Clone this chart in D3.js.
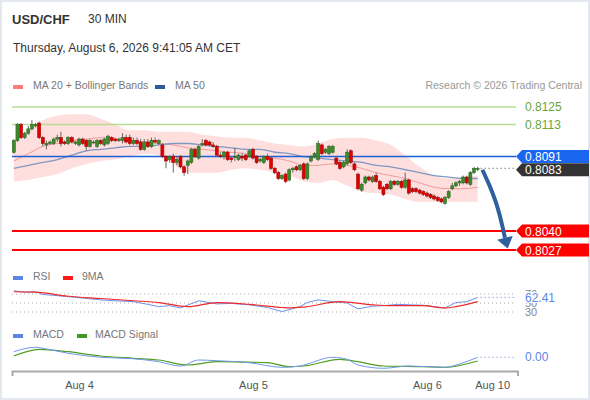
<!DOCTYPE html>
<html>
<head>
<meta charset="utf-8">
<script src="https://cdn.jsdelivr.net/npm/d3@7"></script>
<style>
body { margin: 0; background: #fff; }
svg { display: block; font-family: "Liberation Sans", Arial, sans-serif; }
</style>
</head>
<body>
<div id="chart"></div>
<script>
// 30 min candles, index 0..128
var opens = [.8094,.8102,.8113,.8104,.8107,.8110,.8112,.8114,.8104,.8099,.8100,.8100,.8103,.8104,.8101,.8100,.8104,.8100,.8099,.8103,.8102,.8098,.8101,.8098,.8102,.8099,.8100,.8104,.8103,.8102,.8102,.8104,
  .8104,.8100,.8102,.8101,.8096,.8101,.8098,.8102,.8100,.8099,.8091,.8089,.8091,.8087,.8091,.8084,.8085,.8087,.8096,.8090,.8099,.8102,.8101,.8099,.8098,.8092,.8091,.8094,.8090,.8091,.8089,.8091,.8092,
  .8091,.8096,.8091,.8088,.8087,.8091,.8090,.8083,.8080,.8076,.8079,.8075,.8082,.8084,.8082,.8086,.8076,.8088,.8091,.8089,.8099,.8094,.8093,.8094,.8090,.8087,.8084,.8086,.8095,.8086,.8079,.8068,
  .8073,.8077,.8074,.8078,.8074,.8070,.8072,.8069,.8074,.8072,.8074,.8070,.8075,.8069,.8069,.8068,.8067,.8066,.8065,.8064,.8063,.8062,.8059,.8063,.8069,.8071,.8073,.8073,.8077,.8072,.8080,.8083];
var highs = [.8103,.8114,.8114,.8108,.8112,.8116,.8114,.8115,.8105,.8102,.8102,.8104,.8106,.8108,.8102,.8105,.8105,.8102,.8104,.8104,.8103,.8103,.8102,.8103,.8103,.8104,.8106,.8105,.8104,.8104,.8107,.8106,
  .8106,.8104,.8104,.8103,.8103,.8103,.8104,.8104,.8103,.8100,.8092,.8092,.8093,.8091,.8092,.8085,.8089,.8097,.8097,.8099,.8103,.8103,.8102,.8101,.8099,.8094,.8095,.8095,.8091,.8097,.8093,.8093,.8093,
  .8096,.8097,.8092,.8090,.8092,.8093,.8091,.8084,.8081,.8079,.8080,.8083,.8084,.8085,.8086,.8087,.8087,.8092,.8094,.8102,.8100,.8097,.8099,.8099,.8091,.8088,.8088,.8096,.8096,.8087,.8080,.8073,
  .8078,.8078,.8078,.8080,.8075,.8071,.8073,.8075,.8075,.8075,.8075,.8080,.8076,.8070,.8070,.8069,.8068,.8067,.8066,.8065,.8064,.8063,.8064,.8068,.8073,.8074,.8075,.8078,.8078,.8081,.8084,.8084];
var lows = [.8093,.8101,.8103,.8103,.8106,.8109,.8111,.8103,.8098,.8096,.8099,.8099,.8101,.8098,.8099,.8099,.8100,.8099,.8098,.8099,.8095,.8097,.8100,.8097,.8099,.8098,.8099,.8101,.8101,.8101,.8100,.8100,
  .8099,.8099,.8099,.8095,.8095,.8097,.8097,.8100,.8099,.8090,.8083,.8087,.8080,.8085,.8083,.8078,.8079,.8086,.8090,.8089,.8098,.8098,.8098,.8097,.8091,.8090,.8089,.8088,.8087,.8088,.8088,.8088,.8088,
  .8090,.8089,.8086,.8087,.8086,.8088,.8082,.8079,.8075,.8075,.8073,.8074,.8080,.8081,.8081,.8075,.8075,.8087,.8090,.8088,.8092,.8093,.8092,.8093,.8085,.8082,.8083,.8085,.8086,.8081,.8068,.8067,
  .8072,.8074,.8073,.8073,.8068,.8064,.8068,.8068,.8071,.8071,.8069,.8069,.8065,.8066,.8066,.8065,.8064,.8063,.8062,.8061,.8060,.8059,.8058,.8062,.8068,.8070,.8071,.8072,.8072,.8071,.8079,.8081];
var closes = [.8102,.8113,.8104,.8107,.8110,.8113,.8113,.8104,.8100,.8100,.8101,.8103,.8104,.8100,.8100,.8104,.8101,.8101,.8103,.8100,.8098,.8102,.8101,.8102,.8100,.8103,.8105,.8102,.8102,.8103,.8104,.8101,
  .8100,.8102,.8100,.8096,.8101,.8098,.8102,.8101,.8102,.8091,.8088,.8091,.8087,.8089,.8084,.8080,.8088,.8096,.8091,.8098,.8100,.8099,.8099,.8098,.8092,.8091,.8094,.8089,.8089,.8091,.8092,.8090,.8089,
  .8095,.8090,.8087,.8089,.8091,.8089,.8083,.8080,.8076,.8078,.8074,.8082,.8083,.8082,.8085,.8076,.8086,.8091,.8093,.8100,.8093,.8096,.8098,.8098,.8086,.8083,.8087,.8094,.8087,.8082,.8069,.8072,
  .8077,.8075,.8077,.8074,.8069,.8065,.8069,.8074,.8072,.8074,.8070,.8075,.8066,.8067,.8067,.8066,.8065,.8064,.8063,.8062,.8061,.8060,.8063,.8067,.8071,.8073,.8074,.8077,.8073,.8080,.8083,.8083];

// MA 20 + Bollinger Bands, MA 50 (read at these candle indices)
var bandIdx = [0,4,8,12,16,20,24,28,32,36,40,44,48,52,56,60,64,68,72,76,80,84,88,92,96,100,104,108,112,116,120,124,128];
var ma20  = [.8088,.8093,.8098,.8100,.8102,.8103,.8104,.8103,.8102,.8101,.8100,.8099,.8097,.8096,.8095,.8094,.8093,.8091,.8090,.8088,.8085,.8085,.8086,.8085,.8083,.8080,.8078,.8076,.8073,.8070,.8069,.8069,.8070];
var upper = [.8102,.8109,.8116,.8119,.8120,.8120,.8117,.8113,.8109,.8109,.8108,.8108,.8108,.8106,.8105,.8104,.8104,.8102,.8100,.8099,.8098,.8100,.8103,.8104,.8104,.8102,.8099,.8092,.8084,.8078,.8076,.8077,.8078];
var lower = [.8074,.8075,.8077,.8079,.8083,.8086,.8088,.8089,.8091,.8093,.8092,.8086,.8080,.8080,.8080,.8082,.8083,.8082,.8080,.8078,.8074,.8073,.8075,.8071,.8067,.8066,.8065,.8062,.8060,.8060,.8060,.8060,.8060];
var ma50  = [.8083,.8085,.8087,.8089,.8092,.8095,.8096,.8097,.8098,.8098,.8099,.8100,.8100,.8099,.8098,.8097,.8096,.8096,.8094,.8093,.8091,.8090,.8089,.8088,.8087,.8085,.8084,.8082,.8080,.8078,.8077,.8076,.8076];

var resistLevels = [0.8125, 0.8113];
var pivotLevel = 0.8091;
var supportLevels = [0.8040, 0.8027];

var arrowIdx = [129.3, 131.3, 133.0, 136.3];
var arrowPrice = [0.8082, 0.8071, 0.8060, 0.8028];

var rsiIdx = [0,3,6,8,11,15,19,24,28,33,37,40,43,46,51,56,60,65,70,74,79,81,84,88,92,95,99,102,106,109,113,116,119,122,125,128];
var rsi    = [77,74,75,69,67,64,61,57,55,53,47,42,44,39,55,48,49,46,40,31,42,51,57,53,50,37,43,44,47,46,45,42,39,51,53,62.41];
var rsiMaIdx = [0,6,15,24,33,40,48,56,65,74,76,80,90,99,104,113,119,122,128];
var rsiMa    = [75,74,65,60,55,51,42,51,47,40,39,41,53,46,44,44,39,42,53];
var rsiLevels = [70, 50, 30];

var macdIdx = [0,6,8,15,24,33,40,46,51,56,65,74,79,81,88,92,95,102,109,119,123,128];
var macd    = [4.3,8.7,7.7,2.7,-1.3,-2.7,-5.7,-10,-4,-4.7,-6.7,-11.3,-10,-8,-1.3,-3.3,-9,-12.3,-10,-11.3,-8,-1.3].map(function(v){ return v * 1e-5; });
var signalIdx = [0,7,15,24,33,40,48,56,70,76,80,90,95,102,113,119,128];
var signal    = [0,6.7,4.3,0,-2.3,-4,-9,-5.7,-6.7,-10.7,-10,-3.3,-5.7,-10,-10.7,-11.3,-5].map(function(v){ return v * 1e-5; });

var tickIdx = [18, 66, 114, 132];
var tickLabels = ["Aug 4", "Aug 5", "Aug 6", "Aug 10"];

var width = 590, height = 400;
var font = "'Liberation Sans', Arial, sans-serif";

var svg = d3.select("#chart").append("svg")
    .attr("width", width)
    .attr("height", height);

svg.append("rect")
    .attr("x", 1).attr("y", 1)
    .attr("width", width - 2).attr("height", height - 2)
    .attr("fill", "#fff")
    .attr("stroke", "#e3e8ee")
    .attr("stroke-width", 2);

var x = d3.scaleLinear().domain([-0.5, 139]).range([12, 517.5]);
var y = d3.scaleLinear().domain([0.8027, 0.8125]).range([250, 107]);
var yR = d3.scaleLinear().domain([30, 70]).range([312, 294]);
var yM = d3.scaleLinear().domain([-0.0001, 0]).range([366, 356]);
var rightEdge = 516;

// header
svg.append("text").attr("x", 12).attr("y", 24).text("USD/CHF")
    .style("font-size", "13px").style("font-weight", "bold").attr("fill", "#333");
svg.append("text").attr("x", 88).attr("y", 23).text("30 MIN")
    .style("font-size", "12px").attr("fill", "#333");
svg.append("text").attr("x", 13).attr("y", 52).text("Thursday, August 6, 2026 9:41:05 AM CET")
    .style("font-size", "12px").attr("fill", "#333");

function legendItem(x0, yy, color, label, gap) {
    svg.append("rect").attr("x", x0).attr("y", yy - 4).attr("width", 10).attr("height", 4).attr("fill", color);
    svg.append("text").attr("x", x0 + gap).attr("y", yy).text(label)
        .style("font-size", "10.5px").attr("fill", "#777");
}
legendItem(13, 89, "#ff7c7c", "MA 20 + Bollinger Bands", 20);
legendItem(155, 89, "#2f5b9a", "MA 50", 20);
svg.append("text").attr("x", 582).attr("y", 89).attr("text-anchor", "end")
    .text("Research \u00a9 2026 Trading Central")
    .style("font-size", "10.5px").attr("fill", "#999");

// bollinger band
var bandData = bandIdx.map(function(d, i){ return { i: d, u: upper[i], l: lower[i], m: ma20[i], m50: ma50[i] }; });
svg.append("path").datum(bandData)
    .attr("d", d3.area().curve(d3.curveMonotoneX)
        .x(function(d){ return x(d.i); })
        .y0(function(d){ return y(d.l); })
        .y1(function(d){ return y(d.u); }))
    .attr("fill", "#ffdede");

svg.append("path").datum(bandData)
    .attr("d", d3.line().curve(d3.curveMonotoneX)
        .x(function(d){ return x(d.i); }).y(function(d){ return y(d.m); }))
    .attr("fill", "none").attr("stroke", "#f29a9a").attr("stroke-width", 1);

svg.append("path").datum(bandData)
    .attr("d", d3.line().curve(d3.curveMonotoneX)
        .x(function(d){ return x(d.i); }).y(function(d){ return y(d.m50); }))
    .attr("fill", "none").attr("stroke", "#7f98c2").attr("stroke-width", 1.3);

// levels
svg.selectAll(".res").data(resistLevels).enter().append("line")
    .attr("x1", 12).attr("x2", rightEdge)
    .attr("y1", function(d){ return y(d); }).attr("y2", function(d){ return y(d); })
    .attr("stroke", "#b9dc93").attr("stroke-width", 1.5);
svg.selectAll(".resl").data(resistLevels).enter().append("text")
    .attr("x", 525).attr("y", function(d){ return y(d) + 4; })
    .text(function(d){ return d.toFixed(4); })
    .style("font-size", "12px").attr("fill", "#6aa534");

svg.append("line").attr("x1", 12).attr("x2", rightEdge)
    .attr("y1", y(pivotLevel)).attr("y2", y(pivotLevel))
    .attr("stroke", "#1f5fd4").attr("stroke-width", 1.5);

svg.selectAll(".sup").data(supportLevels).enter().append("line")
    .attr("x1", 12).attr("x2", rightEdge)
    .attr("y1", function(d){ return y(d); }).attr("y2", function(d){ return y(d); })
    .attr("stroke", "#ff0000").attr("stroke-width", 2);

// candles
var candles = closes.map(function(c, i){ return { i: i, o: opens[i], h: highs[i], l: lows[i], c: c }; });
var cg = svg.append("g");
cg.selectAll(".wick").data(candles).enter().append("line")
    .attr("x1", function(d){ return x(d.i); }).attr("x2", function(d){ return x(d.i); })
    .attr("y1", function(d){ return y(d.h); }).attr("y2", function(d){ return y(d.l); })
    .attr("stroke", "#666").attr("stroke-width", 1);
cg.selectAll(".body").data(candles).enter().append("rect")
    .attr("x", function(d){ return x(d.i) - 1.5; })
    .attr("width", 3)
    .attr("y", function(d){ return y(Math.max(d.o, d.c)); })
    .attr("height", function(d){ return Math.max(1, Math.abs(y(d.o) - y(d.c))); })
    .attr("fill", function(d){ return d.c >= d.o ? "#3c8a2c" : "#e00000"; })
    .attr("stroke", function(d){ return d.c >= d.o ? "#2c6a20" : "#a80000"; })
    .attr("stroke-width", 0.6);

var last = closes[closes.length - 1];
svg.append("line").attr("x1", x(closes.length - 1) + 3).attr("x2", rightEdge)
    .attr("y1", y(last)).attr("y2", y(last))
    .attr("stroke", "#444").attr("stroke-dasharray", "1,3");

// forecast arrow
var arrowPts = arrowIdx.map(function(d, i){ return [x(d), y(arrowPrice[i])]; });
var tip = arrowPts[arrowPts.length - 1];
var prev = arrowPts[arrowPts.length - 2];
var dx = tip[0] - prev[0], dy = tip[1] - prev[1], len = Math.sqrt(dx*dx + dy*dy);
var ux = dx / len, uy = dy / len;
var base = [tip[0] - ux * 11, tip[1] - uy * 11];
var shaft = arrowPts.slice(0, -1).concat([base]);
svg.append("path").datum(shaft)
    .attr("d", d3.line().curve(d3.curveMonotoneY))
    .attr("fill", "none").attr("stroke", "#2f5f9e").attr("stroke-width", 4);
svg.append("path")
    .attr("d", "M" + tip + "L" + [base[0] - uy * 8, base[1] + ux * 8] + "L" + [base[0] + uy * 8, base[1] - ux * 8] + "Z")
    .attr("fill", "#2f5f9e");

// right tags
function tag(yy, fill, label) {
    svg.append("path")
        .attr("d", "M" + rightEdge + "," + yy + "L" + (rightEdge + 6) + "," + (yy - 6.5) + "L589," + (yy - 6.5) +
            "L589," + (yy + 6.5) + "L" + (rightEdge + 6) + "," + (yy + 6.5) + "Z")
        .attr("fill", fill);
    svg.append("text").attr("x", 525).attr("y", yy + 4.5).text(label)
        .style("font-size", "12px").attr("fill", "#fff");
}
tag(y(pivotLevel), "#1a66f0", pivotLevel.toFixed(4));
tag(y(last) + 1.5, "#333", last.toFixed(4));
supportLevels.forEach(function(d){ tag(y(d), "#ff0000", d.toFixed(4)); });

// RSI panel
legendItem(13, 280, "#5b86e5", "RSI", 20);
legendItem(63, 280, "#ff1a1a", "9MA", 19);
rsiLevels.forEach(function(v){
    svg.append("line").attr("x1", 12).attr("x2", rightEdge)
        .attr("y1", yR(v)).attr("y2", yR(v))
        .attr("stroke", "#aaa").attr("stroke-dasharray", "1,3");
    svg.append("text").attr("x", 525).attr("y", yR(v) + 4).text(v)
        .style("font-size", "11px").attr("fill", "#888");
});
var rsiLast = rsi[rsi.length - 1];
svg.append("line").attr("x1", x(128) + 3).attr("x2", rightEdge)
    .attr("y1", yR(rsiLast)).attr("y2", yR(rsiLast))
    .attr("stroke", "#5b86e5").attr("stroke-dasharray", "1,3");
svg.append("path").datum(rsiIdx.map(function(d, i){ return [x(d), yR(rsi[i])]; }))
    .attr("d", d3.line()).attr("fill", "none").attr("stroke", "#6b93ea").attr("stroke-width", 1);
svg.append("path").datum(rsiMaIdx.map(function(d, i){ return [x(d), yR(rsiMa[i])]; }))
    .attr("d", d3.line().curve(d3.curveMonotoneX)).attr("fill", "none").attr("stroke", "#f02a2a").attr("stroke-width", 1.2);
// current RSI label sits on a white patch over the level labels
svg.append("rect").attr("x", 523).attr("y", yR(rsiLast) - 5.5).attr("width", 36).attr("height", 11).attr("fill", "#fff");
svg.append("text").attr("x", 525).attr("y", yR(rsiLast) + 4.5).text(rsiLast.toFixed(2))
    .style("font-size", "12px").attr("fill", "#5b86e5");

// MACD panel
legendItem(13, 338, "#5b86e5", "MACD", 20);
legendItem(77, 338, "#3f9a1c", "MACD Signal", 18);
var macdLast = macd[macd.length - 1];
svg.append("line").attr("x1", x(128) + 3).attr("x2", rightEdge)
    .attr("y1", yM(macdLast)).attr("y2", yM(macdLast))
    .attr("stroke", "#5b86e5").attr("stroke-dasharray", "1,3");
svg.append("path").datum(signalIdx.map(function(d, i){ return [x(d), yM(signal[i])]; }))
    .attr("d", d3.line().curve(d3.curveMonotoneX)).attr("fill", "none").attr("stroke", "#4f9e22").attr("stroke-width", 1.2);
svg.append("path").datum(macdIdx.map(function(d, i){ return [x(d), yM(macd[i])]; }))
    .attr("d", d3.line().curve(d3.curveMonotoneX)).attr("fill", "none").attr("stroke", "#7097ea").attr("stroke-width", 1);
svg.append("text").attr("x", 525).attr("y", yM(macdLast) + 4).text(Math.abs(macdLast).toFixed(2))
    .style("font-size", "12px").attr("fill", "#5b86e5");

// x axis
var xAxis = d3.axisBottom(x).tickValues(tickIdx)
    .tickFormat(function(d, i){ return tickLabels[i]; })
    .tickSizeInner(0).tickSizeOuter(5).tickPadding(10);
var ax = svg.append("g").attr("transform", "translate(0,371)").call(xAxis);
ax.select(".domain").attr("stroke", "#aaa").attr("stroke-width", 2);
ax.selectAll("text").style("font-size", "11px").style("font-family", font).attr("fill", "#555");
</script>
</body>
</html>
